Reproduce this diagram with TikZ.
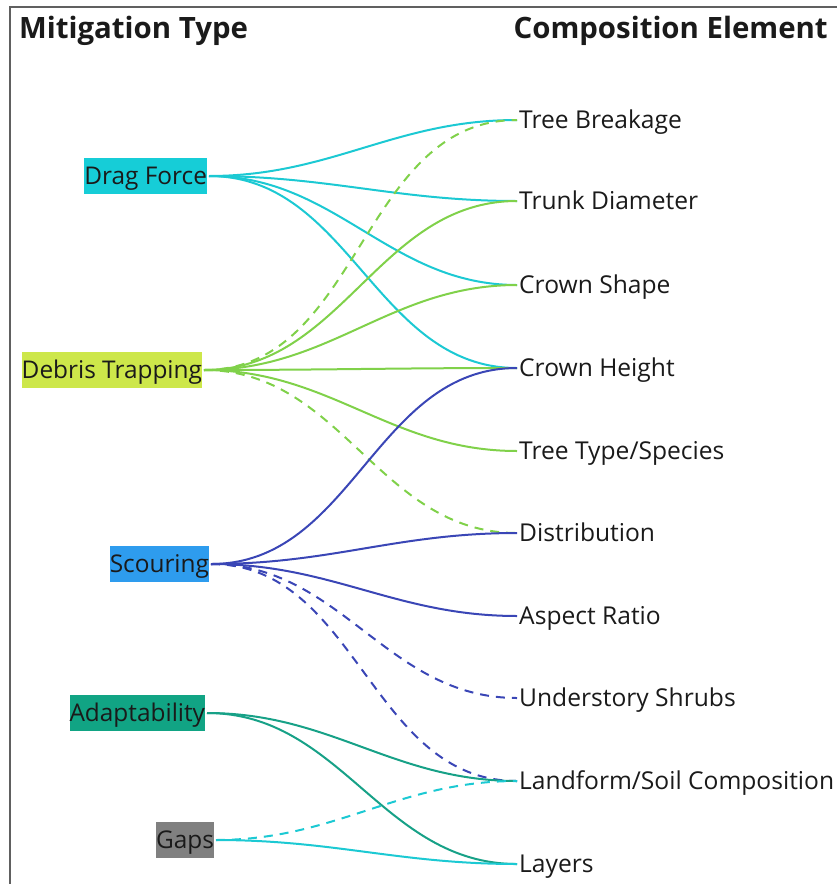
\documentclass[tikz,border=0pt]{standalone}
\usepackage{fontspec}
\setmainfont{Open Sans}
\usetikzlibrary{calc}
\definecolor{dragfill}{HTML}{16CDD7}
\definecolor{debrisfill}{HTML}{CDE74A}
\definecolor{scourfill}{HTML}{2E9CEE}
\definecolor{adaptfill}{HTML}{11A484}
\definecolor{gapsfill}{HTML}{808080}
\definecolor{cyanline}{HTML}{1CC9D3}
\definecolor{greenline}{HTML}{80D14A}
\definecolor{blueline}{HTML}{3A46B6}
\definecolor{tealline}{HTML}{17A187}
\definecolor{inkgray}{HTML}{1A1A1A}

\begin{document}
\begin{tikzpicture}[
        x=1pt, y=-1pt,
        heading/.style={font=\fontsize{29.4}{34}\selectfont\bfseries, text=inkgray,
            text height=21pt, text depth=0pt, inner sep=0pt},
        mitigation/.style={font=\fontsize{24.4}{29}\selectfont, text=inkgray, anchor=east,
            text height=17.5pt, text depth=0pt, minimum height=36pt, inner xsep=0pt, outer sep=2pt},
        element/.style={font=\fontsize{24.6}{29}\selectfont, text=inkgray, anchor=west,
            text height=17.6pt, text depth=0pt, inner sep=2pt},
        link/.style={line width=2pt, out=0, in=180},
        dashedlink/.style={link, dash pattern=on 9pt off 7pt},
    ]
    \useasboundingbox (0,0) rectangle (837,884);

    % Frame
    \draw[line width=2pt, gray!75!black] (10,884) -- (10,7) -- (837,7);

    % Headings
    \node[heading, anchor=west] (mtitle) at (19,27.5) {Mitigation Type};
    \node[heading, anchor=east] (ctitle) at (828,27.5) {Composition Element};

    % Mitigation types
    \node[mitigation, fill=dragfill] (drag) at (209,176) {Drag Force};
    \node[mitigation, fill=debrisfill] (debris) at (204,370) {Debris Trapping};
    \node[mitigation, fill=scourfill] (scour) at (211,564) {Scouring};
    \node[mitigation, fill=adaptfill] (adapt) at (207,713) {Adaptability};
    \node[mitigation, fill=gapsfill] (gaps) at (216,840) {Gaps};

    % Composition elements
    \foreach \n/\y/\t in {tb/120/{Tree Breakage}, td/201/{Trunk Diameter}, cs/285/{Crown Shape},
            ch/368/{Crown Height}, ts/451/{Tree Type/Species}, di/533/{Distribution},
            ar/616/{Aspect Ratio}, us/698/{Understory Shrubs},
            ls/781/{Landform/Soil Composition}, la/864/{Layers}}
        \node[element] (\n) at (517,\y) {\t};

    % Drag force
    \foreach \e in {tb,td,cs,ch}
        \draw[link, cyanline] (drag.east) to (\e.west);

    % Debris trapping
    \foreach \e in {td,cs,ch,ts}
        \draw[link, greenline] (debris.east) to (\e.west);
    \foreach \e in {tb,di}
        \draw[dashedlink, greenline] (debris.east) to (\e.west);

    % Scouring
    \foreach \e in {ch,di,ar}
        \draw[link, blueline] (scour.east) to (\e.west);
    \foreach \e in {us,ls}
        \draw[dashedlink, blueline] (scour.east) to (\e.west);

    % Adaptability
    \foreach \e in {ls,la}
        \draw[link, tealline] (adapt.east) to (\e.west);

    % Gaps
    \draw[link, cyanline] (gaps.east) to (la.west);
    \draw[dashedlink, cyanline] (gaps.east) to (ls.west);
\end{tikzpicture}
\end{document}
